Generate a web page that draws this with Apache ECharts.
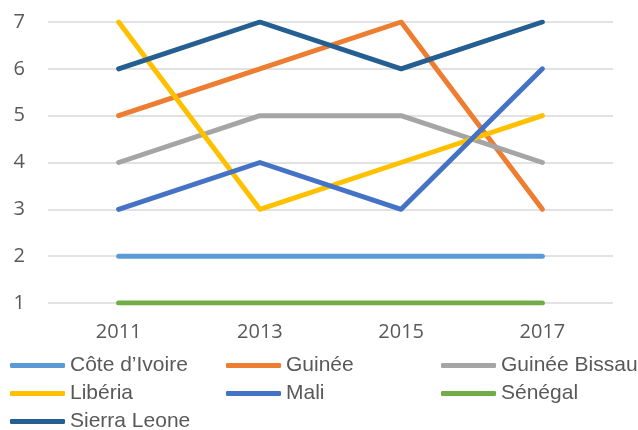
<!DOCTYPE html>
<html>
<head>
<meta charset="utf-8">
<script src="https://cdn.jsdelivr.net/npm/echarts@6/dist/echarts.min.js"></script>
<style>
  html, body { margin: 0; padding: 0; background: #fff; }
  #chart { width: 638px; height: 430px; }
</style>
</head>
<body>
<div id="chart"></div>
<script>
// données
var years = ['2011', '2013', '2015', '2017'];
var names = ['Côte d’Ivoire', 'Guinée', 'Guinée Bissau', 'Libéria', 'Mali', 'Sénégal', 'Sierra Leone'];
var coteIvoire = [2, 2, 2, 2];
var guinee = [5, 6, 7, 3];
var guineeBissau = [4, 5, 5, 4];
var liberia = [7, 3, 4, 5];
var mali = [3, 4, 3, 6];
var senegal = [1, 1, 1, 1];
var sierraLeone = [6, 7, 6, 7];
var values = [coteIvoire, guinee, guineeBissau, liberia, mali, senegal, sierraLeone];

var colors = ['#5B9BD5', '#ED7D31', '#A5A5A5', '#FFC000', '#4472C4', '#70AD47', '#255E91'];
// position de chaque entrée de légende (3 colonnes)
var legendPos = [[10, 355], [226, 355], [441, 355], [10, 383], [226, 383], [441, 383], [10, 411]];

var chart = echarts.init(document.getElementById('chart'));

var series = names.map(function (n, i) {
  return {
    name: n,
    type: 'line',
    data: values[i],
    symbol: 'none',
    color: colors[i],
    lineStyle: { width: 5, cap: 'round', join: 'round' },
    z: 2 + i
  };
});

var legends = names.map(function (n, i) {
  return {
    data: [n],
    left: legendPos[i][0],
    top: legendPos[i][1],
    padding: 0,
    itemWidth: 55,
    itemHeight: 5,
    icon: 'roundRect',
    selectedMode: false,
    textStyle: {
      color: '#595959',
      fontSize: 21,
      fontFamily: 'Liberation Sans, Arial, sans-serif',
      padding: [0, 0, 0, 0]
    }
  };
});

var option = {
  animation: false,
  legend: legends,
  grid: { left: 48, right: 25, top: 22, bottom: 127, containLabel: false },
  xAxis: {
    type: 'category',
    data: years,
    boundaryGap: true,
    axisTick: { show: false },
    axisLine: { show: false },
    axisLabel: {
      color: '#595959',
      fontSize: 20,
      fontFamily: 'Open Sans, sans-serif',
      margin: 19
    }
  },
  yAxis: {
    type: 'value',
    min: 1,
    max: 7,
    interval: 1,
    axisLine: { show: false },
    axisTick: { show: false },
    splitLine: { lineStyle: { color: '#D9D9D9', width: 1.5 } },
    axisLabel: {
      color: '#595959',
      fontSize: 20,
      fontFamily: 'Open Sans, sans-serif',
      margin: 23
    }
  },
  series: series
};

chart.setOption(option);
</script>
</body>
</html>
